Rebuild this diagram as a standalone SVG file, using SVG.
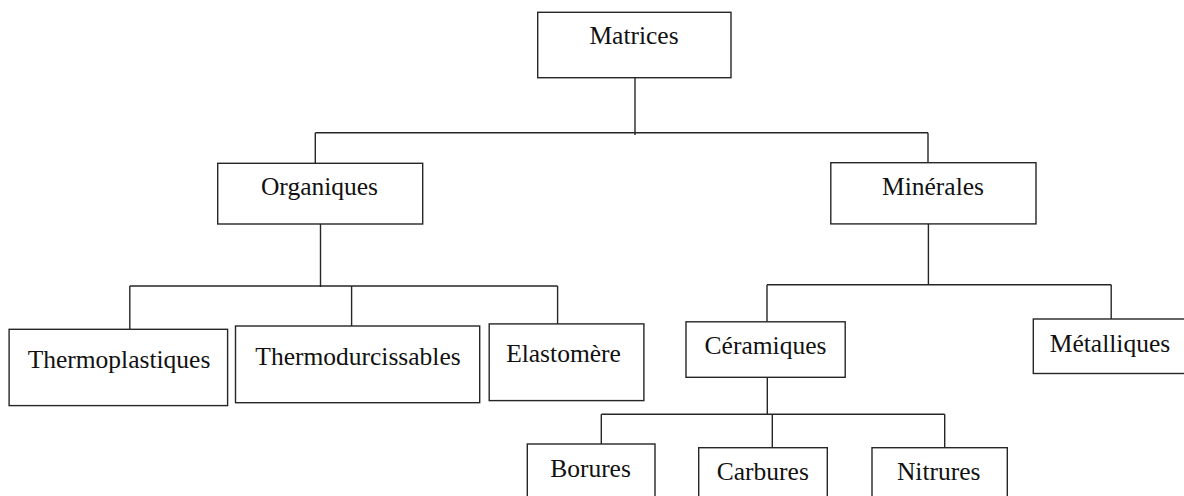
<svg xmlns="http://www.w3.org/2000/svg" width="1184" height="496" viewBox="0 0 1184 496">
<style>
.box{fill:#fff;stroke:#262626;stroke-width:1.4}
.lbl{font-family:"Liberation Serif","Times New Roman",serif;font-size:25.5px;fill:#111;text-anchor:middle}
.conn line{stroke:#262626;stroke-width:1.4}
</style>
<rect width="1184" height="496" fill="#fff"/>
<g class="conn" id="connectors">
<line x1="635" y1="78" x2="635" y2="135"/>
<line x1="315.3" y1="132.7" x2="928" y2="132.7"/>
<line x1="315.3" y1="132.7" x2="315.3" y2="163.3"/>
<line x1="928" y1="132.7" x2="928" y2="162.7"/>
<line x1="320.5" y1="224" x2="320.5" y2="287"/>
<line x1="129.8" y1="286" x2="557.6" y2="286"/>
<line x1="129.8" y1="286" x2="129.8" y2="329.3"/>
<line x1="351.6" y1="286" x2="351.6" y2="326"/>
<line x1="557.6" y1="286" x2="557.6" y2="324"/>
<line x1="928.4" y1="224" x2="928.4" y2="284.7"/>
<line x1="767" y1="284.7" x2="1111.2" y2="284.7"/>
<line x1="767" y1="284.7" x2="767" y2="321.8"/>
<line x1="1111.2" y1="284.7" x2="1111.2" y2="319"/>
<line x1="767.3" y1="377" x2="767.3" y2="414.3"/>
<line x1="601.3" y1="414.3" x2="944.7" y2="414.3"/>
<line x1="601.3" y1="414.3" x2="601.3" y2="444"/>
<line x1="772.3" y1="414.3" x2="772.3" y2="447.7"/>
<line x1="944.7" y1="414.3" x2="944.7" y2="447.7"/>
</g>
<g id="matrices"><rect class="box" x="537.7" y="12.3" width="193.3" height="65.4"/><text class="lbl" x="634" y="44">Matrices</text></g>
<g id="organiques"><rect class="box" x="217.7" y="163.3" width="205" height="60.7"/><text class="lbl" x="319.5" y="195">Organiques</text></g>
<g id="minerales"><rect class="box" x="830.8" y="162.7" width="205.2" height="61.2"/><text class="lbl" x="933" y="194.5">Minérales</text></g>
<g id="thermoplastiques"><rect class="box" x="9.1" y="329.3" width="218.5" height="76.3"/><text class="lbl" x="119" y="368">Thermoplastiques</text></g>
<g id="thermodurcissables"><rect class="box" x="235.5" y="326" width="244.2" height="76.7"/><text class="lbl" x="358" y="365">Thermodurcissables</text></g>
<g id="elastomere"><rect class="box" x="489.2" y="323.9" width="154.7" height="76.7"/><text class="lbl" x="563.5" y="362">Elastomère</text></g>
<g id="ceramiques"><rect class="box" x="686" y="321.8" width="159.2" height="55.5"/><text class="lbl" x="765.5" y="354">Céramiques</text></g>
<g id="metalliques"><rect class="box" x="1033.3" y="319" width="155" height="54.5"/><text class="lbl" x="1110" y="352">Métalliques</text></g>
<g id="borures"><rect class="box" x="527.3" y="444" width="127.7" height="60"/><text class="lbl" x="590.5" y="476.7">Borures</text></g>
<g id="carbures"><rect class="box" x="698.7" y="447.7" width="128.6" height="60"/><text class="lbl" x="762.8" y="480">Carbures</text></g>
<g id="nitrures"><rect class="box" x="872" y="447.7" width="135.3" height="60"/><text class="lbl" x="938.7" y="480">Nitrures</text></g>
</svg>
